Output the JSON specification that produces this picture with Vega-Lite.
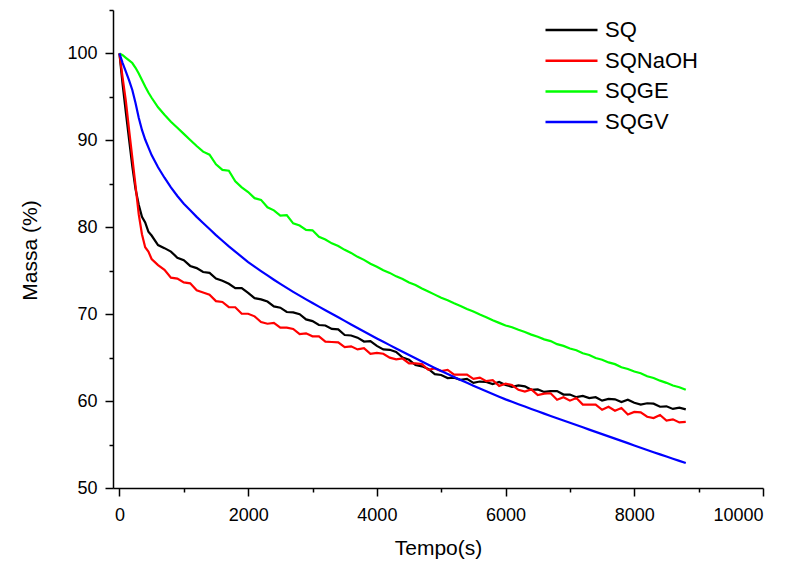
{
  "$schema": "https://vega.github.io/schema/vega-lite/v6.json",
  "width": 650,
  "height": 478,
  "autosize": {"type": "none"},
  "padding": {"left": 113, "top": 10, "right": 27, "bottom": 74},
  "background": "white",
  "config": {
    "view": {"stroke": null},
    "font": "Liberation Sans",
    "axis": {
      "grid": false,
      "domainColor": "black",
      "domainWidth": 1.5,
      "tickColor": "black",
      "tickWidth": 1.5,
      "labelColor": "black",
      "titleColor": "black",
      "labelFont": "Liberation Sans",
      "titleFont": "Liberation Sans",
      "labelFontSize": 18,
      "titleFontSize": 21,
      "titleFontWeight": "normal"
    }
  },
  "data": {
    "values": [
      {"t": 0, "SQ": 100, "SQNaOH": 100, "SQGE": 100, "SQGV": 100},
      {"t": 50, "SQ": 96.4, "SQNaOH": 97.2, "SQGE": 99.8, "SQGV": 98.9},
      {"t": 100, "SQ": 93.2, "SQNaOH": 94.5, "SQGE": 99.5, "SQGV": 97.9},
      {"t": 150, "SQ": 90.1, "SQNaOH": 91.2, "SQGE": 99.2, "SQGV": 96.9},
      {"t": 200, "SQ": 87.0, "SQNaOH": 88.0, "SQGE": 98.9, "SQGV": 95.8},
      {"t": 250, "SQ": 84.4, "SQNaOH": 84.8, "SQGE": 98.35, "SQGV": 94.3},
      {"t": 300, "SQ": 82.6, "SQNaOH": 81.5, "SQGE": 97.7, "SQGV": 92.6},
      {"t": 350, "SQ": 81.2, "SQNaOH": 79.2, "SQGE": 96.95, "SQGV": 91.2},
      {"t": 400, "SQ": 80.55, "SQNaOH": 77.7, "SQGE": 96.2, "SQGV": 90.1},
      {"t": 450, "SQ": 79.5, "SQNaOH": 77.2, "SQGE": 95.5, "SQGV": 89.2},
      {"t": 500, "SQ": 79.05, "SQNaOH": 76.35, "SQGE": 94.9, "SQGV": 88.3},
      {"t": 600, "SQ": 77.95, "SQNaOH": 75.65, "SQGE": 93.8, "SQGV": 86.9},
      {"t": 700, "SQ": 77.6, "SQNaOH": 75.1, "SQGE": 92.95, "SQGV": 85.7},
      {"t": 800, "SQ": 77.2, "SQNaOH": 74.2, "SQGE": 92.15, "SQGV": 84.6},
      {"t": 900, "SQ": 76.5, "SQNaOH": 74.1, "SQGE": 91.45, "SQGV": 83.6},
      {"t": 1000, "SQ": 76.2, "SQNaOH": 73.65, "SQGE": 90.75, "SQGV": 82.7},
      {"t": 1100, "SQ": 75.55, "SQNaOH": 73.55, "SQGE": 90.05, "SQGV": 81.95},
      {"t": 1200, "SQ": 75.3, "SQNaOH": 72.75, "SQGE": 89.35, "SQGV": 81.2},
      {"t": 1300, "SQ": 74.85, "SQNaOH": 72.5, "SQGE": 88.7, "SQGV": 80.5},
      {"t": 1400, "SQ": 74.75, "SQNaOH": 72.25, "SQGE": 88.35, "SQGV": 79.8},
      {"t": 1500, "SQ": 74.1, "SQNaOH": 71.5, "SQGE": 87.25, "SQGV": 79.1},
      {"t": 1600, "SQ": 73.85, "SQNaOH": 71.4, "SQGE": 86.6, "SQGV": 78.45},
      {"t": 1700, "SQ": 73.5, "SQNaOH": 70.8, "SQGE": 86.5, "SQGV": 77.8},
      {"t": 1800, "SQ": 73.0, "SQNaOH": 70.8, "SQGE": 85.3, "SQGV": 77.2},
      {"t": 1900, "SQ": 73.0, "SQNaOH": 70.05, "SQGE": 84.6, "SQGV": 76.6},
      {"t": 2000, "SQ": 72.45, "SQNaOH": 70.05, "SQGE": 84.05, "SQGV": 76.0},
      {"t": 2100, "SQ": 71.85, "SQNaOH": 69.75, "SQGE": 83.35, "SQGV": 75.48},
      {"t": 2200, "SQ": 71.7, "SQNaOH": 69.1, "SQGE": 83.15, "SQGV": 74.96},
      {"t": 2300, "SQ": 71.45, "SQNaOH": 68.9, "SQGE": 82.3, "SQGV": 74.46},
      {"t": 2400, "SQ": 70.9, "SQNaOH": 69.0, "SQGE": 81.95, "SQGV": 73.96},
      {"t": 2500, "SQ": 70.75, "SQNaOH": 68.45, "SQGE": 81.35, "SQGV": 73.48},
      {"t": 2600, "SQ": 70.25, "SQNaOH": 68.45, "SQGE": 81.4, "SQGV": 73.02},
      {"t": 2700, "SQ": 70.2, "SQNaOH": 68.3, "SQGE": 80.45, "SQGV": 72.57},
      {"t": 2800, "SQ": 70.0, "SQNaOH": 67.7, "SQGE": 80.2, "SQGV": 72.13},
      {"t": 2900, "SQ": 69.4, "SQNaOH": 67.8, "SQGE": 79.7, "SQGV": 71.7},
      {"t": 3000, "SQ": 69.2, "SQNaOH": 67.45, "SQGE": 79.65, "SQGV": 71.28},
      {"t": 3100, "SQ": 68.75, "SQNaOH": 67.45, "SQGE": 78.9, "SQGV": 70.87},
      {"t": 3200, "SQ": 68.7, "SQNaOH": 66.85, "SQGE": 78.6, "SQGV": 70.46},
      {"t": 3300, "SQ": 68.3, "SQNaOH": 66.8, "SQGE": 78.15, "SQGV": 70.05},
      {"t": 3400, "SQ": 68.25, "SQNaOH": 66.75, "SQGE": 77.85, "SQGV": 69.64},
      {"t": 3500, "SQ": 67.6, "SQNaOH": 66.2, "SQGE": 77.4, "SQGV": 69.23},
      {"t": 3600, "SQ": 67.55, "SQNaOH": 66.3, "SQGE": 77.05, "SQGV": 68.82},
      {"t": 3700, "SQ": 67.3, "SQNaOH": 65.95, "SQGE": 76.6, "SQGV": 68.41},
      {"t": 3800, "SQ": 66.85, "SQNaOH": 66.1, "SQGE": 76.25, "SQGV": 68.0},
      {"t": 3900, "SQ": 66.9, "SQNaOH": 65.45, "SQGE": 75.8, "SQGV": 67.6},
      {"t": 4000, "SQ": 66.35, "SQNaOH": 65.55, "SQGE": 75.45, "SQGV": 67.2},
      {"t": 4100, "SQ": 65.95, "SQNaOH": 65.45, "SQGE": 75.05, "SQGV": 66.82},
      {"t": 4200, "SQ": 65.9, "SQNaOH": 65.0, "SQGE": 74.75, "SQGV": 66.44},
      {"t": 4300, "SQ": 65.65, "SQNaOH": 64.8, "SQGE": 74.35, "SQGV": 66.06},
      {"t": 4400, "SQ": 65.0, "SQNaOH": 64.9, "SQGE": 74.05, "SQGV": 65.68},
      {"t": 4500, "SQ": 64.75, "SQNaOH": 64.35, "SQGE": 73.65, "SQGV": 65.3},
      {"t": 4600, "SQ": 64.15, "SQNaOH": 64.35, "SQGE": 73.35, "SQGV": 64.92},
      {"t": 4700, "SQ": 64.0, "SQNaOH": 64.25, "SQGE": 72.95, "SQGV": 64.55},
      {"t": 4800, "SQ": 63.7, "SQNaOH": 63.6, "SQGE": 72.6, "SQGV": 64.18},
      {"t": 4900, "SQ": 63.1, "SQNaOH": 63.75, "SQGE": 72.25, "SQGV": 63.82},
      {"t": 5000, "SQ": 63.0, "SQNaOH": 63.45, "SQGE": 71.9, "SQGV": 63.46},
      {"t": 5100, "SQ": 62.65, "SQNaOH": 63.6, "SQGE": 71.6, "SQGV": 63.11},
      {"t": 5200, "SQ": 62.7, "SQNaOH": 63.05, "SQGE": 71.25, "SQGV": 62.77},
      {"t": 5300, "SQ": 62.45, "SQNaOH": 63.05, "SQGE": 70.95, "SQGV": 62.43},
      {"t": 5400, "SQ": 62.55, "SQNaOH": 63.05, "SQGE": 70.6, "SQGV": 62.1},
      {"t": 5500, "SQ": 62.1, "SQNaOH": 62.55, "SQGE": 70.3, "SQGV": 61.77},
      {"t": 5600, "SQ": 62.25, "SQNaOH": 62.7, "SQGE": 69.95, "SQGV": 61.45},
      {"t": 5700, "SQ": 62.2, "SQNaOH": 62.3, "SQGE": 69.65, "SQGV": 61.13},
      {"t": 5800, "SQ": 61.95, "SQNaOH": 62.4, "SQGE": 69.3, "SQGV": 60.82},
      {"t": 5900, "SQ": 62.2, "SQNaOH": 61.75, "SQGE": 69.0, "SQGV": 60.51},
      {"t": 6000, "SQ": 61.85, "SQNaOH": 62.0, "SQGE": 68.7, "SQGV": 60.2},
      {"t": 6100, "SQ": 61.65, "SQNaOH": 61.85, "SQGE": 68.5, "SQGV": 59.92},
      {"t": 6200, "SQ": 61.8, "SQNaOH": 61.3, "SQGE": 68.2, "SQGV": 59.64},
      {"t": 6300, "SQ": 61.7, "SQNaOH": 61.1, "SQGE": 67.95, "SQGV": 59.37},
      {"t": 6400, "SQ": 61.3, "SQNaOH": 61.35, "SQGE": 67.65, "SQGV": 59.1},
      {"t": 6500, "SQ": 61.35, "SQNaOH": 60.7, "SQGE": 67.4, "SQGV": 58.83},
      {"t": 6600, "SQ": 61.05, "SQNaOH": 60.85, "SQGE": 67.1, "SQGV": 58.56},
      {"t": 6700, "SQ": 61.15, "SQNaOH": 60.9, "SQGE": 66.9, "SQGV": 58.29},
      {"t": 6800, "SQ": 61.15, "SQNaOH": 60.15, "SQGE": 66.55, "SQGV": 58.02},
      {"t": 6900, "SQ": 60.75, "SQNaOH": 60.45, "SQGE": 66.35, "SQGV": 57.76},
      {"t": 7000, "SQ": 60.75, "SQNaOH": 60.05, "SQGE": 66.05, "SQGV": 57.5},
      {"t": 7100, "SQ": 60.45, "SQNaOH": 60.35, "SQGE": 65.85, "SQGV": 57.24},
      {"t": 7200, "SQ": 60.6, "SQNaOH": 59.6, "SQGE": 65.5, "SQGV": 56.98},
      {"t": 7300, "SQ": 60.35, "SQNaOH": 59.6, "SQGE": 65.3, "SQGV": 56.72},
      {"t": 7400, "SQ": 60.45, "SQNaOH": 59.6, "SQGE": 64.95, "SQGV": 56.46},
      {"t": 7500, "SQ": 60.05, "SQNaOH": 59.0, "SQGE": 64.75, "SQGV": 56.2},
      {"t": 7600, "SQ": 60.25, "SQNaOH": 59.35, "SQGE": 64.45, "SQGV": 55.94},
      {"t": 7700, "SQ": 60.2, "SQNaOH": 58.9, "SQGE": 64.25, "SQGV": 55.68},
      {"t": 7800, "SQ": 59.9, "SQNaOH": 59.2, "SQGE": 63.9, "SQGV": 55.42},
      {"t": 7900, "SQ": 60.15, "SQNaOH": 58.45, "SQGE": 63.7, "SQGV": 55.16},
      {"t": 8000, "SQ": 59.8, "SQNaOH": 58.75, "SQGE": 63.4, "SQGV": 54.9},
      {"t": 8100, "SQ": 59.6, "SQNaOH": 58.7, "SQGE": 63.2, "SQGV": 54.64},
      {"t": 8200, "SQ": 59.75, "SQNaOH": 58.2, "SQGE": 62.85, "SQGV": 54.38},
      {"t": 8300, "SQ": 59.7, "SQNaOH": 58.05, "SQGE": 62.65, "SQGV": 54.12},
      {"t": 8400, "SQ": 59.35, "SQNaOH": 58.4, "SQGE": 62.35, "SQGV": 53.87},
      {"t": 8500, "SQ": 59.4, "SQNaOH": 57.75, "SQGE": 62.1, "SQGV": 53.62},
      {"t": 8600, "SQ": 59.1, "SQNaOH": 57.9, "SQGE": 61.8, "SQGV": 53.37},
      {"t": 8700, "SQ": 59.25, "SQNaOH": 57.55, "SQGE": 61.6, "SQGV": 53.12},
      {"t": 8800, "SQ": 59.05, "SQNaOH": 57.6, "SQGE": 61.3, "SQGV": 52.87}
    ]
  },
  "transform": [{"fold": ["SQ", "SQNaOH", "SQGE", "SQGV"], "as": ["serie", "massa"]}],
  "layer": [
    {
      "mark": {"type": "line", "strokeWidth": 2.2},
      "encoding": {
        "x": {
          "field": "t", "type": "quantitative",
          "scale": {"domain": [-100, 10000], "nice": false, "zero": false},
          "axis": {
            "orient": "bottom",
            "values": [0, 2000, 4000, 6000, 8000, 10000],
            "format": "d",
            "tickSize": 8,
            "labelPadding": 24,
            "labelBaseline": "alphabetic",
            "title": "Tempo(s)",
            "titleBaseline": "alphabetic",
            "titleY": 66
          }
        },
        "y": {
          "field": "massa", "type": "quantitative",
          "scale": {"domain": [50, 105], "nice": false, "zero": false},
          "axis": {
            "orient": "left",
            "values": [50, 60, 70, 80, 90, 100],
            "format": "d",
            "tickSize": 8,
            "labelPadding": 8,
            "title": "Massa (%)",
            "titleAngle": -90,
            "titleBaseline": "alphabetic",
            "titleAlign": "center",
            "titleX": -77,
            "titleY": 240
          }
        },
        "color": {
          "field": "serie", "type": "nominal",
          "scale": {"domain": ["SQ", "SQNaOH", "SQGE", "SQGV"], "range": ["#000000", "#ff0000", "#00ff00", "#0000ff"]},
          "legend": {
            "orient": "none",
            "legendX": 431,
            "legendY": 10,
            "title": null,
            "padding": 0,
            "symbolType": "stroke",
            "symbolSize": 2704,
            "symbolStrokeWidth": 2.5,
            "labelFont": "Liberation Sans",
            "labelFontSize": 22,
            "labelColor": "black",
            "labelOffset": 6,
            "clipHeight": 20,
            "rowPadding": 8.7
          }
        }
      }
    },
    {
      "mark": {"type": "line", "opacity": 0},
      "encoding": {
        "x": {
          "field": "t", "type": "quantitative",
          "scale": {"domain": [-100, 10000], "nice": false, "zero": false},
          "axis": {"orient": "bottom", "values": [1000, 3000, 5000, 7000, 9000], "tickSize": 4, "labels": false, "domain": false, "title": null}
        },
        "y": {
          "field": "massa", "type": "quantitative",
          "scale": {"domain": [50, 105], "nice": false, "zero": false},
          "axis": {"orient": "left", "values": [55, 65, 75, 85, 95, 105], "tickSize": 4, "labels": false, "domain": false, "title": null}
        },
        "detail": {"field": "serie", "type": "nominal"}
      }
    }
  ],
  "resolve": {"axis": {"x": "independent", "y": "independent"}}
}
